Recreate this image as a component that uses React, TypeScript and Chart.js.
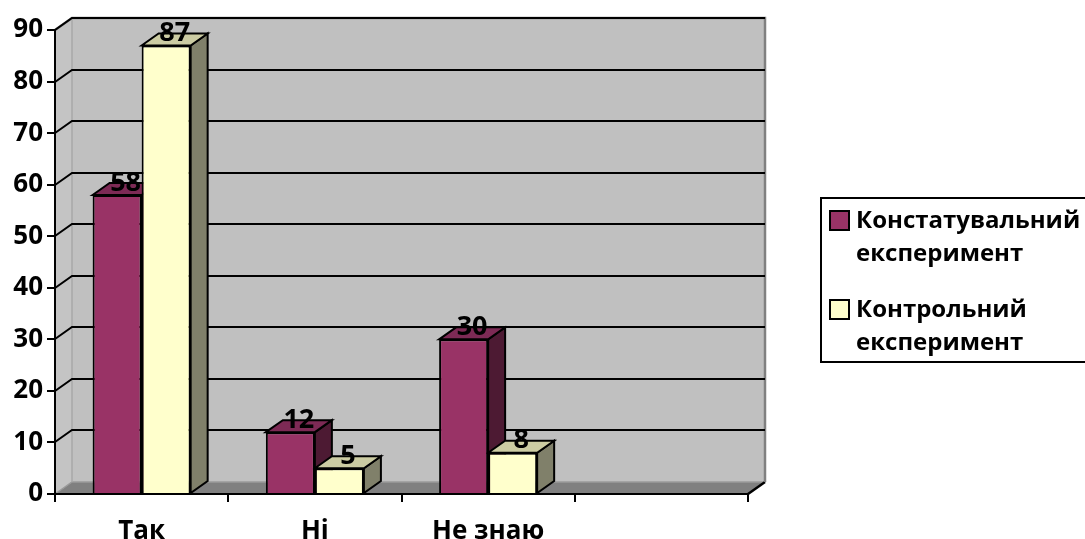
import React, { useEffect, useRef } from "react";
import { Chart, registerables } from "chart.js";

Chart.register(...registerables);

const categories = ["Так", "Ні", "Не знаю", ""];
const seriesNames = ["Констатувальний експеримент", "Контрольний експеримент"];
const legendLines = [["Констатувальний", "експеримент"], ["Контрольний", "експеримент"]];
const constatValues = [58, 12, 30, null];
const controlValues = [87, 5, 8, null];
const yTickMax = 90;
const yTickStep = 10;

const FONT = "'Open Sans', 'Noto Sans', sans-serif";
const DX = 17;
const DY = 12;

const colors = [
  { front: "#993366", top: "#7d2a55", side: "#4d1a33" },
  { front: "#ffffcc", top: "#cccca3", side: "#80806a" },
];

const threeD = {
  id: "threeD",
  beforeDraw(chart: any) {
    const { ctx, chartArea } = chart;
    const { left, right, top, bottom } = chartArea;
    const y = chart.scales.y;
    ctx.save();
    ctx.fillStyle = "#c0c0c0";
    ctx.fillRect(left + DX, top - DY, right - left, bottom - top);
    ctx.fillStyle = "#c4c4c4";
    ctx.beginPath();
    ctx.moveTo(left, top);
    ctx.lineTo(left + DX, top - DY);
    ctx.lineTo(left + DX, bottom - DY);
    ctx.lineTo(left, bottom);
    ctx.closePath();
    ctx.fill();
    ctx.fillStyle = "#808080";
    ctx.beginPath();
    ctx.moveTo(left, bottom);
    ctx.lineTo(left + DX, bottom - DY);
    ctx.lineTo(right + DX, bottom - DY);
    ctx.lineTo(right, bottom);
    ctx.closePath();
    ctx.fill();
    ctx.strokeStyle = "#9a9a9a";
    ctx.lineWidth = 1.5;
    ctx.beginPath();
    ctx.moveTo(left, bottom);
    ctx.lineTo(left + DX, bottom - DY);
    ctx.lineTo(right + DX, bottom - DY);
    ctx.stroke();
    ctx.strokeStyle = "#000";
    ctx.lineWidth = 2.5;
    ctx.beginPath();
    ctx.moveTo(right, bottom);
    ctx.lineTo(right + DX, bottom - DY);
    ctx.stroke();
    ctx.strokeStyle = "#808080";
    ctx.lineWidth = 2.5;
    ctx.beginPath();
    ctx.moveTo(left, top);
    ctx.lineTo(left + DX, top - DY);
    ctx.lineTo(right + DX, top - DY);
    ctx.lineTo(right + DX, bottom - DY);
    ctx.stroke();
    ctx.strokeStyle = "#a8a8a8";
    ctx.lineWidth = 1.5;
    ctx.beginPath();
    ctx.moveTo(left + DX, top - DY);
    ctx.lineTo(left + DX, bottom - DY);
    ctx.stroke();
    ctx.strokeStyle = "#000";
    ctx.lineWidth = 2;
    y.ticks.forEach((t: any) => {
      if (t.value === 0) return;
      const py = Math.round(y.getPixelForValue(t.value));
      ctx.beginPath();
      ctx.moveTo(left, py);
      ctx.lineTo(left + DX, py - DY);
      ctx.lineTo(right + DX, py - DY);
      ctx.stroke();
    });
    ctx.restore();
  },
  beforeDatasetsDraw(chart: any) {
    const { ctx } = chart;
    ctx.save();
    ctx.lineWidth = 2;
    ctx.strokeStyle = "#000";
    ctx.lineJoin = "miter";
    chart.data.datasets.forEach((ds: any, di: number) => {
      const meta = chart.getDatasetMeta(di);
      meta.data.forEach((bar: any, i: number) => {
        if (ds.data[i] == null) return;
        const { x, y, base, width } = bar.getProps(["x", "y", "base", "width"], true);
        const l = x - width / 2;
        const r = x + width / 2;
        ctx.fillStyle = colors[di].side;
        ctx.beginPath();
        ctx.moveTo(r, y);
        ctx.lineTo(r + DX, y - DY);
        ctx.lineTo(r + DX, base - DY);
        ctx.lineTo(r, base);
        ctx.closePath();
        ctx.fill();
        ctx.stroke();
        ctx.fillStyle = colors[di].top;
        ctx.beginPath();
        ctx.moveTo(l, y);
        ctx.lineTo(l + DX, y - DY);
        ctx.lineTo(r + DX, y - DY);
        ctx.lineTo(r, y);
        ctx.closePath();
        ctx.fill();
        ctx.stroke();
      });
    });
    ctx.restore();
  },
  afterDatasetsDraw(chart: any) {
    const { ctx } = chart;
    ctx.save();
    ctx.font = `bold 27px ${FONT}`;
    ctx.fillStyle = "#000";
    ctx.textAlign = "center";
    ctx.textBaseline = "middle";
    chart.data.datasets.forEach((ds: any, di: number) => {
      const meta = chart.getDatasetMeta(di);
      meta.data.forEach((bar: any, i: number) => {
        const v = ds.data[i];
        if (v == null) return;
        ctx.fillText(String(v), bar.x + DX / 2, bar.y - DY);
      });
    });
    ctx.restore();
  },
  afterDraw(chart: any) {
    const { ctx } = chart;
    ctx.save();
    ctx.strokeStyle = "#000";
    ctx.lineWidth = 2;
    ctx.strokeRect(821, 198, 290, 164);
    ctx.font = `bold 24px ${FONT}`;
    ctx.textAlign = "left";
    ctx.textBaseline = "middle";
    const itemY = [221, 310];
    legendLines.forEach((lines, i) => {
      const cy = itemY[i];
      ctx.fillStyle = colors[i].front;
      ctx.fillRect(830, cy - 10, 19, 19);
      ctx.lineWidth = 2;
      ctx.strokeRect(830, cy - 10, 19, 19);
      ctx.fillStyle = "#000";
      lines.forEach((ln, j) => {
        ctx.fillText(ln, 856, cy + j * 33);
      });
    });
    ctx.restore();
  },
};

export default function App() {
  const ref = useRef<HTMLCanvasElement | null>(null);
  useEffect(() => {
    if (!ref.current) return;
    const chart = new Chart(ref.current, {
      type: "bar",
      data: {
        labels: categories,
        datasets: [
          {
            label: seriesNames[0],
            data: constatValues,
            backgroundColor: colors[0].front,
            borderColor: "#000",
            borderWidth: 2,
            categoryPercentage: 0.566,
            barPercentage: 1,
          },
          {
            label: seriesNames[1],
            data: controlValues,
            backgroundColor: colors[1].front,
            borderColor: "#000",
            borderWidth: 2,
            categoryPercentage: 0.566,
            barPercentage: 1,
          },
        ],
      },
      options: {
        responsive: false,
        animation: false,
        layout: { padding: { left: 0, top: 30, right: 337, bottom: 0 } },
        plugins: { legend: { display: false }, tooltip: { enabled: false } },
        scales: {
          x: {
            grid: {
              offset: true,
              drawOnChartArea: false,
              drawTicks: true,
              tickLength: 8,
              color: "#000",
              lineWidth: 2,
            },
            border: { display: true, color: "#000", width: 2 },
            ticks: {
              color: "#000",
              font: { family: FONT, size: 26, weight: "bold" },
              padding: 14,
              maxRotation: 0,
              autoSkip: false,
            },
            afterFit: (s: any) => {
              s.height = 45;
            },
          },
          y: {
            min: 0,
            max: yTickMax,
            grid: {
              drawOnChartArea: false,
              drawTicks: true,
              tickLength: 8,
              color: "#000",
              lineWidth: 2,
            },
            border: { display: true, color: "#000", width: 2 },
            ticks: {
              stepSize: yTickStep,
              color: "#000",
              font: { family: FONT, size: 26, weight: "bold" },
              padding: 4,
            },
            afterFit: (s: any) => {
              s.width = 55;
            },
          },
        },
      },
      plugins: [threeD],
    });
    return () => chart.destroy();
  }, []);
  return (
    <div style={{ position: "absolute", left: 0, top: 0, width: 1085, height: 539, overflow: "hidden", background: "#fff" }}>
      <canvas ref={ref} width={1085} height={539} />
    </div>
  );
}
